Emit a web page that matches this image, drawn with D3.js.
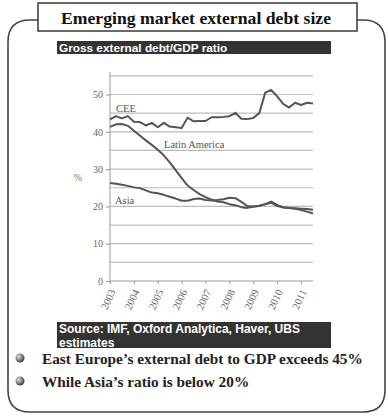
<!DOCTYPE html>
<html>
<head>
<meta charset="utf-8">
<script src="https://cdn.jsdelivr.net/npm/d3@7"></script>
<style>
  body { margin: 0; background: #fff; }
  svg { display: block; }
</style>
</head>
<body>
<div id="chart"></div>
<script>
// quarterly data, 2003 Q1 to 2011 Q3
const quarters = d3.range(35).map((i) => 2003 + i / 4);
const cee = [43.3, 44.2, 43.6, 44.2, 42.7, 42.6, 41.7, 42.4, 41.2, 42.4, 41.4, 41.2, 41.0, 43.8, 42.8, 42.9, 42.9, 43.9, 43.9, 44.0, 44.2, 45.1, 43.5, 43.4, 43.7, 45.0, 50.5, 51.2, 49.5, 47.5, 46.5, 47.8, 47.2, 47.8, 47.6];
const latam = [41.3, 42.0, 42.1, 41.6, 40.3, 39.0, 37.7, 36.5, 35.2, 33.7, 31.8, 29.7, 27.6, 25.6, 24.4, 23.3, 22.5, 21.8, 21.3, 21.1, 20.6, 20.3, 19.8, 19.6, 19.9, 20.2, 20.6, 21.3, 20.4, 19.7, 19.6, 19.4, 19.0, 18.6, 18.1];
const asia = [26.3, 26.1, 25.8, 25.5, 25.1, 24.9, 24.3, 23.7, 23.5, 23.1, 22.6, 22.1, 21.5, 21.5, 22.0, 22.1, 21.7, 21.6, 21.7, 21.9, 22.3, 22.2, 21.2, 20.1, 20.0, 20.1, 20.6, 21.0, 20.1, 19.8, 19.6, 19.5, 19.4, 19.3, 19.1];
const yearTicks = [2003, 2004, 2005, 2006, 2007, 2008, 2009, 2010, 2011];
const yTicks = [0, 10, 20, 30, 40, 50];
const gridVals = [5, 10, 15, 20, 25, 30, 35, 40, 45, 50, 55];
const sourceLines = ["Source: IMF, Oxford Analytica, Haver, UBS", "estimates"];
const bullets = ["East Europe\u2019s external debt to GDP exceeds 45%", "While Asia\u2019s ratio is below 20%"];

const svg = d3.select("#chart").append("svg").attr("width", 388).attr("height", 416);

const serif = "'Liberation Serif', 'Times New Roman', serif";
const sans = "'Liberation Sans', Arial, sans-serif";

// outer rounded frame
const L = 8, T = 20, R = 385, B = 412, r = 22;
svg.append("path")
  .attr("d", `M${R - r},${T} Q${R},${T} ${R},${T + r} L${R},${B - r} Q${R},${B} ${R - r},${B} L${L + r},${B} Q${L},${B} ${L},${B - r} L${L},${T + r} Q${L},${T} ${L + r},${T} Z`)
  .attr("fill", "none").attr("stroke", "#444").attr("stroke-width", 1.6);

// title box
svg.append("rect").attr("x", 38).attr("y", 3).attr("width", 319).attr("height", 28)
  .attr("fill", "#fff").attr("stroke", "#444").attr("stroke-width", 1.6);
svg.append("text").attr("x", 196).attr("y", 24).attr("text-anchor", "middle")
  .style("font-family", serif).style("font-weight", "bold").style("font-size", "17.7px")
  .attr("fill", "#111").text("Emerging market external debt size");

// header bar
svg.append("rect").attr("x", 57).attr("y", 41).attr("width", 274).attr("height", 13).attr("fill", "#333");
svg.append("text").attr("x", 59).attr("y", 51.5)
  .style("font-family", sans).style("font-weight", "bold").style("font-size", "11.8px")
  .attr("fill", "#fff").text("Gross external debt/GDP ratio");

// scales
const x = d3.scaleLinear().domain([2003, 2011.5]).range([110, 313]);
const y = d3.scaleLinear().domain([0, 50]).range([281, 94.5]);

// grid
svg.append("g").selectAll("line").data(gridVals).join("line")
  .attr("x1", 110).attr("x2", 313)
  .attr("y1", (d) => y(d)).attr("y2", (d) => y(d))
  .attr("stroke", "#bdbdbd").attr("stroke-width", 1.2);

// y axis
const yAxis = svg.append("g").attr("transform", "translate(110,0)")
  .call(d3.axisLeft(y).tickValues(yTicks).tickSize(4).tickPadding(3));
yAxis.select(".domain").attr("d", `M0,${y(56)}V${y(0)}`).attr("stroke", "#999");
yAxis.selectAll(".tick line").attr("stroke", "#999");
yAxis.selectAll("text").style("font-family", serif).style("font-size", "10px").attr("fill", "#666");

// x axis
const xAxis = svg.append("g").attr("transform", `translate(0,${y(0)})`)
  .call(d3.axisBottom(x).tickValues(yearTicks).tickSize(3).tickFormat(d3.format("d")));
xAxis.select(".domain").attr("d", `M110,0H313`).attr("stroke", "#999");
xAxis.selectAll(".tick line").attr("stroke", "#999");
xAxis.selectAll("text")
  .style("font-family", serif).style("font-size", "10.5px").attr("fill", "#666")
  .attr("text-anchor", "end").attr("dy", "0.35em")
  .attr("transform", "translate(2,9) rotate(-65)").attr("x", 0).attr("y", 0);

svg.append("text").attr("x", 78).attr("y", 181).attr("text-anchor", "middle")
  .style("font-family", serif).style("font-size", "10px").attr("fill", "#777").text("%");

// lines
const line = d3.line().x((d, i) => x(quarters[i])).y((d) => y(d));
[cee, latam, asia].forEach((s) => {
  svg.append("path").datum(s).attr("d", line)
    .attr("fill", "none").attr("stroke", "#555").attr("stroke-width", 2)
    .attr("stroke-linejoin", "round");
});

// series labels
const labels = [["CEE", 116, 112], ["Latin America", 164, 148], ["Asia", 115, 204]];
svg.append("g").selectAll("text").data(labels).join("text")
  .attr("x", (d) => d[1]).attr("y", (d) => d[2])
  .style("font-family", serif).style("font-size", "10.5px").attr("fill", "#555")
  .text((d) => d[0]);

// source bar
svg.append("rect").attr("x", 57).attr("y", 322).attr("width", 274).attr("height", 26).attr("fill", "#333");
svg.append("g").selectAll("text").data(sourceLines).join("text")
  .attr("x", 59).attr("y", (d, i) => 332.5 + i * 14)
  .style("font-family", sans).style("font-weight", "bold").style("font-size", "12px")
  .attr("fill", "#fff").text((d) => d);

// bullets
const grad = svg.append("defs").append("radialGradient").attr("id", "ball")
  .attr("cx", "35%").attr("cy", "35%").attr("r", "65%");
grad.append("stop").attr("offset", "0%").attr("stop-color", "#ddd");
grad.append("stop").attr("offset", "100%").attr("stop-color", "#444");
const bl = svg.append("g").selectAll("g").data(bullets).join("g")
  .attr("transform", (d, i) => `translate(0,${358 + i * 23})`);
bl.append("circle").attr("cx", 20).attr("cy", 0).attr("r", 4.5).attr("fill", "url(#ball)");
bl.append("text").attr("x", 42).attr("y", 6)
  .style("font-family", serif).style("font-weight", "bold").style("font-size", "15.3px")
  .attr("fill", "#222").text((d) => d);
</script>
</body>
</html>
